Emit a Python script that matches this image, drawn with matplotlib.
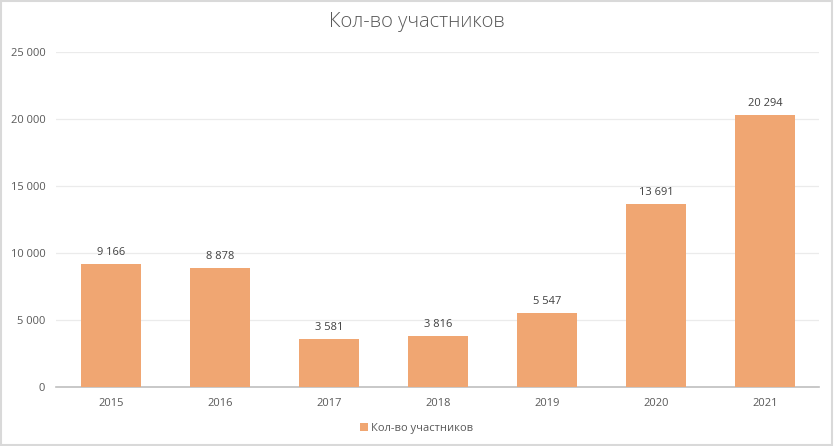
import numpy as np
import matplotlib.pyplot as plt
from matplotlib.patches import Rectangle

# data
years = ['2015', '2016', '2017', '2018', '2019', '2020', '2021']
participants = [9166, 8878, 3581, 3816, 5547, 13691, 20294]
series_name = 'Кол-во участников'

def fmt(v):
    return f'{int(v):,}'.replace(',', ' ')

plt.rcParams['font.family'] = ['Open Sans', 'DejaVu Sans']

barColor = '#F0A672'
textColor = '#595959'

fig = plt.figure(figsize=(8.34, 4.46), dpi=100)
ax = fig.add_axes([0.0677, 0.1323, 0.9149, 0.7511])

x = np.arange(len(years))
bars = ax.bar(x, participants, width=0.55, color=barColor, label=series_name, zorder=3)

#value labels above bars
for xi, v in zip(x, participants):
    ax.text(xi, v + 450, fmt(v), ha='center', va='bottom', fontsize=8, color='#404040')

ax.set_xlim(-0.5, len(years) - 0.5)
ax.set_ylim(0, 25000)
ax.set_yticks(np.arange(0, 25001, 5000))
ax.set_yticklabels([fmt(t) for t in np.arange(0, 25001, 5000)], fontsize=8, color=textColor)
ax.set_xticks(x)
ax.set_xticklabels(years, fontsize=8, color=textColor)
ax.tick_params(axis='x', length=0, pad=8)
ax.tick_params(axis='y', length=0, pad=8)

ax.grid(axis='y', color='#EBEBEB', linewidth=0.9, zorder=0)
for s in ['top', 'right', 'left']:
    ax.spines[s].set_visible(False)
ax.spines['bottom'].set_color('#BFBFBF')
ax.spines['bottom'].set_linewidth(1.2)

fig.text(0.5, 0.95, series_name, ha='center', va='center', fontsize=14.5, color=textColor, fontweight='light')

fig.legend(handles=[bars], labels=[series_name], loc='center', bbox_to_anchor=(0.5, 0.04),
           frameon=False, fontsize=8, handlelength=0.7, handleheight=0.7, handletextpad=0.3,
           labelcolor=textColor)

#light border around the whole chart
fig.patches.append(Rectangle((0.001, 0.002), 0.997, 0.995, transform=fig.transFigure,
                             fill=False, edgecolor='#D9D9D9', linewidth=1.5))

fig.savefig('out.png', dpi=100)
